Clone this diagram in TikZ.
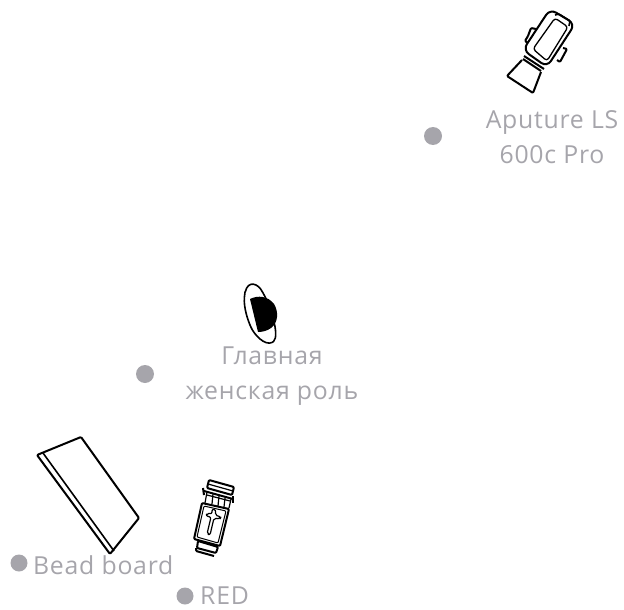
\documentclass[tikz,border=0pt]{standalone}
\usepackage{fontspec}
\setmainfont{Open Sans}[LetterSpace=3]
\usepackage{xcolor}
\definecolor{labelgray}{HTML}{A6A5AB}
\tikzset{
  mark dot/.style={circle,fill=labelgray,inner sep=0pt,minimum size=#1},
  label text/.style={text=labelgray,font=\fontsize{24.8}{35}\selectfont,inner sep=0pt},
  outline/.style={draw=black,line width=2pt,line join=round,rounded corners=1pt}
}
\begin{document}
\begin{tikzpicture}[x=1pt,y=-1pt]
  \useasboundingbox (0,0) rectangle (624,610);
  % light
  \draw[outline,rounded corners=7pt] (550,9) -- (575,24) -- (547,67) -- (523,50) -- cycle;
  \draw[outline,line width=1.3pt,rounded corners=3pt] (555,18) -- (568,27) -- (547,61) -- (533,49) -- cycle;
  \draw[outline,line width=1.6pt] (555,15) -- (559,14) -- (570,21) -- (569,26);
  \draw[outline] (528,36) -- (531,28) -- (536,29);
  \draw[outline] (528,36) -- (525,41) -- (528,43);
  \draw[outline] (563,48) -- (567,49) -- (560,62) -- (557,60);
  \draw[outline] (524,56) -- (544,69);
  \draw[outline] (523,59) -- (541,71);
  \draw[outline] (522,60) -- (507,76) -- (533,93) -- (541,72);
  % woman
  \draw[outline,line width=1.6pt] (245,293) .. controls (248,280) and (258,283) .. (263,293)
    .. controls (270,305) and (280,335) .. (273,342)
    .. controls (265,346) and (254,335) .. (250,325)
    .. controls (246,315) and (243,303) .. (245,293) -- cycle;
  \fill[black] (250,299) .. controls (258,295) and (268,296) .. (274,304)
    .. controls (279,312) and (278,323) .. (271,328)
    .. controls (267,331) and (262,332) .. (258,332) -- cycle;
  % bead board
  \draw[outline] (37,455) -- (81,437) -- (139,518) -- (110,554) -- cycle;
  \draw[outline,line width=1.6pt] (43,453) -- (114,551);
  % camera
  \draw[outline] (202,503) -- (229,509) -- (220,546) -- (194,539) -- cycle;
  \draw[outline,line width=1pt] (204,506) -- (226,511) -- (218,543) -- (197,537) -- cycle;
  \draw[outline,line width=1.2pt,rounded corners=2pt] (212,509) -- (216,510) -- (215,515) -- (221,517) -- (220,519) -- (214,518) -- (210,535) -- (207,534) -- (211,517) -- (206,516) -- (207,513) -- (212,514) -- cycle;
  \draw[outline] (209,480) -- (234,487) -- (232,495) -- (207,488) -- cycle;
  \draw[outline,line width=1.2pt] (208,484) -- (233,491);
  \draw[outline] (204,491) -- (233,499);
  \draw[outline,line width=1.2pt] (207,495) -- (230,501);
  \draw[outline,line width=1.2pt] (207,492) -- (205,503);
  \draw[outline,line width=1.2pt] (213,494) -- (212,504);
  \draw[outline,line width=1.2pt] (219,496) -- (218,506);
  \draw[outline,line width=1.2pt] (225,498) -- (224,507);
  \draw[outline,line width=1.2pt] (231,499) -- (229,508);
  \draw[outline] (203,488) -- (204,495);
  \draw[outline] (233,496) -- (233,503);
  \draw[outline] (198,541) -- (218,547) -- (216,553) -- (197,548) -- cycle;
  \draw[outline] (196,548) -- (196,551) -- (214,556);
  % labels
  \node[mark dot=18pt] (lightdot) at (433,136) {};
  \node[label text,align=center] (lightlabel) at (552,137) {Aputure LS\\600c Pro};
  \node[mark dot=18pt] (womandot) at (145,374) {};
  \node[label text,align=center] (womanlabel) at (272,376) {Главная\\женская роль};
  \node[mark dot=17pt] (boarddot) at (19,563) {};
  \node[label text,anchor=west] (boardlabel) at (33,565) {Bead board};
  \node[mark dot=17pt] (reddot) at (185,596) {};
  \node[label text,anchor=west] (redlabel) at (200,596) {RED};
\end{tikzpicture}
\end{document}
